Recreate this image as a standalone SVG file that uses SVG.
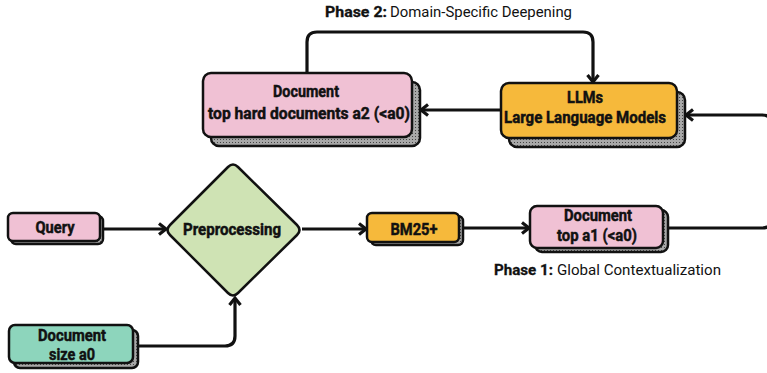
<svg xmlns="http://www.w3.org/2000/svg" width="767" height="373" viewBox="0 0 767 373">
<style>
.box{stroke:#111;stroke-width:2.5}
.sh{fill:url(#dots);stroke:#111;stroke-width:2.5}
.pink{fill:#F0C1D4}
.orange{fill:#F6B93B}
.green{fill:#CFE3B4}
.teal{fill:#8DD5BC}
.t{font-family:Roboto,"Liberation Sans",sans-serif;font-weight:bold;font-size:17px;fill:#111;stroke:#111;stroke-width:0.5;text-anchor:middle}
.lb{font-family:Roboto,"Liberation Sans",sans-serif;font-weight:bold;font-size:14.5px;fill:#111;stroke:#111;stroke-width:0.3}
.lr{font-family:Roboto,"Liberation Sans",sans-serif;font-weight:normal;font-size:14.5px;fill:#111}
.c{fill:none;stroke:#111;stroke-width:3.2}
</style>
<defs>
<pattern id="dots" width="3" height="3" patternUnits="userSpaceOnUse">
<rect width="3" height="3" fill="#a8a8a8"/>
<rect x="1" y="1" width="1" height="1" fill="#444"/>
</pattern>
<marker id="arr" markerUnits="userSpaceOnUse" markerWidth="14" markerHeight="14" refX="9" refY="7" orient="auto">
<path d="M2,1.5 L9,7 L2,12.5" fill="none" stroke="#111" stroke-width="3.2" stroke-linejoin="miter"/>
</marker>
</defs>

<g id="connectors">
<path class="c" d="M103,229 H166" marker-end="url(#arr)"/>
<path class="c" d="M302,229 H366" marker-end="url(#arr)"/>
<path class="c" d="M463,228 H529" marker-end="url(#arr)"/>
<path class="c" d="M668,228 H762 Q772,228 772,218 V125 Q772,115 762,115 H686" marker-end="url(#arr)"/>
<path class="c" d="M501,110 H421" marker-end="url(#arr)"/>
<path class="c" d="M307,73 V42 Q307,32 317,32 H583 Q593,32 593,42 V82" marker-end="url(#arr)"/>
<path class="c" d="M138,346 H225 Q235,346 235,336 V298" marker-end="url(#arr)"/>
</g>

<g id="doc-a2">
<rect class="sh" x="211" y="82" width="209" height="64" rx="8"/>
<rect class="box pink" x="203" y="73" width="209" height="64" rx="8"/>
<text class="t" x="306" y="97" textLength="66" lengthAdjust="spacingAndGlyphs">Document</text>
<text class="t" x="309" y="119" textLength="202" lengthAdjust="spacingAndGlyphs">top hard documents a2 (&lt;a0)</text>
</g>

<g id="llms">
<rect class="sh" x="509" y="92" width="176" height="55" rx="8"/>
<rect class="box orange" x="501" y="83" width="176" height="55" rx="8"/>
<text class="t" x="585" y="103" textLength="36" lengthAdjust="spacingAndGlyphs">LLMs</text>
<text class="t" x="585" y="123" textLength="162" lengthAdjust="spacingAndGlyphs">Large Language Models</text>
</g>

<g id="query">
<rect class="sh" x="11" y="216" width="92" height="28" rx="5"/>
<rect class="box pink" x="8" y="213" width="92" height="28" rx="5"/>
<text class="t" x="55" y="233" textLength="39" lengthAdjust="spacingAndGlyphs">Query</text>
</g>

<g id="preprocessing">
<path class="box green" d="M228,167 Q233,162 238,167 L297,225 Q302,230 297,235 L238,293 Q233,298 228,293 L170,235 Q165,230 170,225 Z"/>
<text class="t" x="232" y="235" textLength="98" lengthAdjust="spacingAndGlyphs">Preprocessing</text>
</g>

<g id="bm25">
<rect class="sh" x="371" y="216" width="92" height="29" rx="5"/>
<rect class="box orange" x="367" y="213" width="92" height="29" rx="5"/>
<text class="t" x="414" y="235" textLength="47" lengthAdjust="spacingAndGlyphs">BM25+</text>
</g>

<g id="doc-a1">
<rect class="sh" x="535" y="210" width="133" height="42" rx="7"/>
<rect class="box pink" x="530" y="206" width="133" height="42" rx="7"/>
<text class="t" x="598" y="221" textLength="68" lengthAdjust="spacingAndGlyphs">Document</text>
<text class="t" x="597" y="241" textLength="80" lengthAdjust="spacingAndGlyphs">top a1 (&lt;a0)</text>
</g>

<g id="doc-a0">
<rect class="sh" x="14" y="330" width="124" height="38" rx="6"/>
<rect class="box teal" x="9" y="325" width="124" height="38" rx="6"/>
<text class="t" x="72" y="341" textLength="68" lengthAdjust="spacingAndGlyphs">Document</text>
<text class="t" x="72" y="360" textLength="46" lengthAdjust="spacingAndGlyphs">size a0</text>
</g>

<g id="phase1-label">
<text class="lb" x="494" y="275" textLength="59" lengthAdjust="spacingAndGlyphs">Phase 1:</text>
<text class="lr" x="557" y="275" textLength="164" lengthAdjust="spacingAndGlyphs">Global Contextualization</text>
</g>

<g id="phase2-label">
<text class="lb" x="325" y="17" textLength="62" lengthAdjust="spacingAndGlyphs">Phase 2:</text>
<text class="lr" x="390" y="17" textLength="182" lengthAdjust="spacingAndGlyphs">Domain-Specific Deepening</text>
</g>
</svg>
